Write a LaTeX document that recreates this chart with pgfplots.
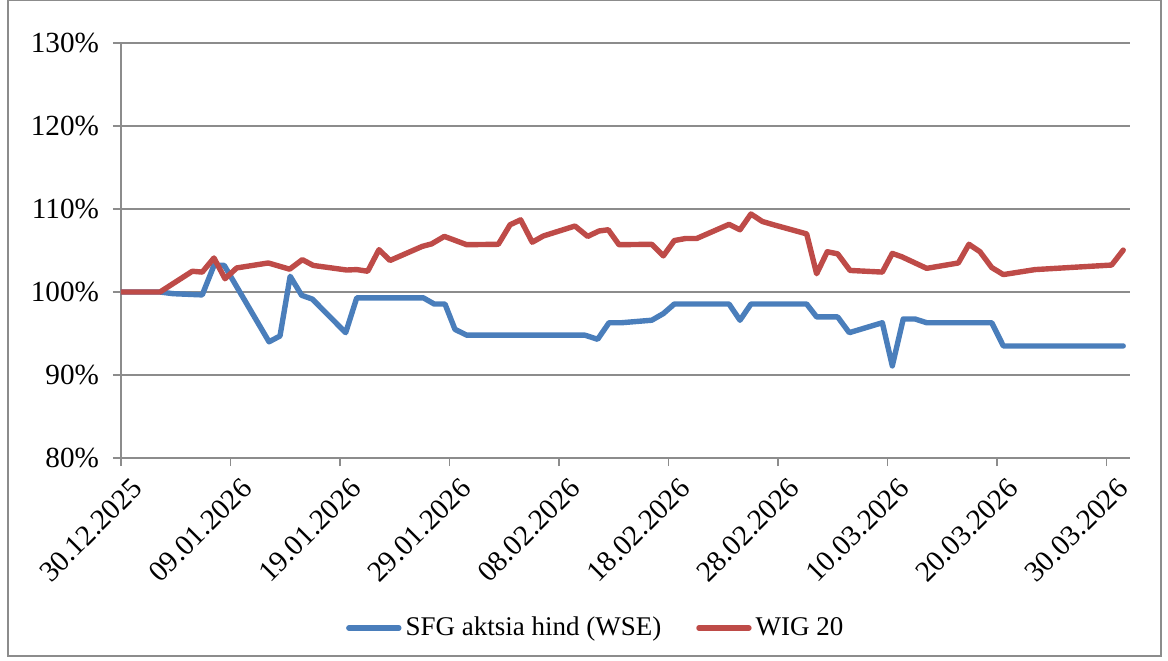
\documentclass[border=0pt]{standalone}
\usepackage{pgfplots}
\pgfplotsset{compat=1.18}
\usepackage{fontspec}
\setmainfont{Liberation Serif}
\definecolor{sfgblue}{HTML}{4A7EBB}
\definecolor{wigred}{HTML}{BE4B48}
\definecolor{gridgray}{HTML}{8C8C8C}
\begin{document}
\begin{tikzpicture}
\useasboundingbox (-60.5pt,-101pt) rectangle (523.5pt,229pt);
\draw[gridgray, line width=0.9pt] (-56.5pt,-99pt) rectangle (520pt,229pt);
\begin{axis}[
  at={(0pt,0pt)}, anchor=south west,
  scale only axis, width=504.5pt, height=207.5pt,
  font=\fontsize{14.6}{17}\selectfont,
  xmin=0, xmax=92.15, ymin=80, ymax=130,
  axis x line*=bottom, axis y line*=left,
  axis line style={gridgray, line width=0.9pt, -},
  tick style={gridgray, line width=0.9pt},
  tick align=outside, major tick length=4pt,
  xtick={0,10,...,90},
  xticklabels={30.12.2025,09.01.2026,19.01.2026,29.01.2026,08.02.2026,18.02.2026,28.02.2026,10.03.2026,20.03.2026,30.03.2026},
  xticklabel style={rotate=45, anchor=east, xshift=3pt, yshift=-12pt},
  ytick={80,90,...,130},
  yticklabel={\pgfmathprintnumber{\tick}\%},
  yticklabel style={xshift=-3.5pt},
  /pgf/number format/assume math mode=true,
  ymajorgrids, grid style={gridgray, line width=0.9pt},
  legend columns=2,
  legend style={draw=none, fill=none, at={(0.4715,-0.4096)}, anchor=center,
    font=\fontsize{13.5}{16}\selectfont,
    /tikz/every even column/.append style={column sep=15.5pt}},
  legend image code/.code={\draw[#1, line cap=round] (0pt,0pt) -- (25pt,0pt);},
  every axis plot/.append style={line width=2.7pt, line join=round, line cap=round},
]
\addplot[sfgblue] table {
0 100
3.56 100
4.75 99.8
7.42 99.65
8.49 103.2
9.43 103.2
13.52 94.0
14.52 94.7
15.45 101.9
16.50 99.6
17.47 99.15
20.52 95.1
21.53 99.3
27.61 99.3
28.61 98.55
29.59 98.55
30.50 95.5
31.57 94.8
42.37 94.8
43.53 94.3
44.57 96.3
45.73 96.3
48.47 96.6
49.53 97.4
50.53 98.55
55.53 98.55
56.53 96.6
57.53 98.55
62.62 98.55
63.53 97.0
65.45 97.0
66.51 95.1
69.53 96.3
70.44 91.1
71.44 96.75
72.51 96.75
73.58 96.3
79.52 96.3
80.58 93.5
91.53 93.5
};
\addlegendentry{SFG aktsia hind (WSE)}
\addplot[wigred] table {
0 100.0
3.56 100.0
6.51 102.5
7.42 102.4
8.49 104.1
9.50 101.6
10.57 102.9
13.45 103.5
15.40 102.75
16.56 103.9
17.56 103.2
20.61 102.65
21.53 102.7
22.53 102.5
23.56 105.1
24.57 103.8
27.52 105.5
28.37 105.8
29.53 106.7
30.35 106.3
31.57 105.7
34.46 105.75
35.53 108.1
36.50 108.7
37.56 106.0
38.57 106.75
41.46 107.95
42.62 106.7
43.65 107.35
44.50 107.5
45.48 105.7
48.47 105.75
49.53 104.35
50.53 106.2
51.57 106.45
52.58 106.45
55.53 108.15
56.53 107.5
57.53 109.4
58.57 108.5
59.6 108.1
62.62 107.0
63.53 102.2
64.50 104.85
65.45 104.6
66.58 102.6
69.53 102.4
70.44 104.65
71.30 104.25
73.58 102.85
76.47 103.5
77.44 105.75
78.45 104.85
79.52 102.95
80.58 102.1
83.47 102.7
90.47 103.25
91.53 105.05
};
\addlegendentry{WIG 20}
\end{axis}
\end{tikzpicture}
\end{document}
